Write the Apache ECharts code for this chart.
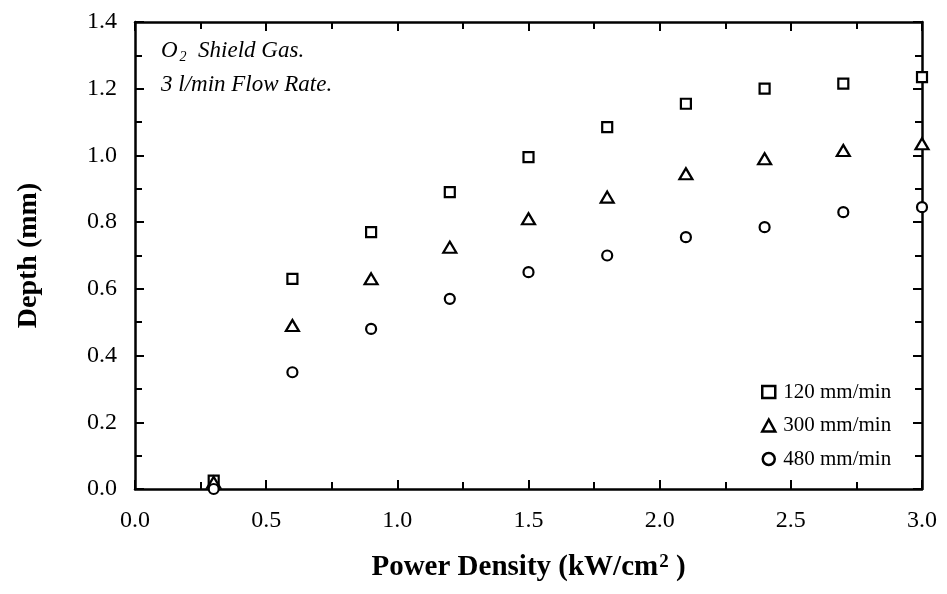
<!DOCTYPE html>
<html>
<head>
<meta charset="utf-8">
<script src="https://cdn.jsdelivr.net/npm/echarts@6/dist/echarts.min.js"></script>
<style>
  html, body { margin: 0; padding: 0; background: #fff; }
  #chart { width: 947px; height: 594px; }
</style>
</head>
<body>
<div id="chart"></div>
<script>
// power density (kW/cm2)
const powerDensity = [0.3, 0.6, 0.9, 1.2, 1.5, 1.8, 2.1, 2.4, 2.7, 3.0]
// weld depth (mm) for each travel speed
const depth120 = [0.025, 0.63, 0.77, 0.89, 0.995, 1.085, 1.155, 1.2, 1.215, 1.235]
const depth300 = [0.02, 0.49, 0.63, 0.725, 0.81, 0.875, 0.945, 0.99, 1.015, 1.035]
const depth480 = [0.0, 0.35, 0.48, 0.57, 0.65, 0.7, 0.755, 0.785, 0.83, 0.845]
const seriesNames = ['120 mm/min', '300 mm/min', '480 mm/min']

const serif = "'Liberation Serif', 'Times New Roman', serif"
const black = '#000'

const pairs = (ys) => powerDensity.map((x, i) => [x, ys[i]])

const myChart = echarts.init(document.getElementById('chart'))

const tickStyle = { show: true, inside: true, length: 9, lineStyle: { color: black, width: 2 } }
const minorStyle = { show: true, splitNumber: 2, length: 7, lineStyle: { color: black, width: 2 } }
const lineStyle = { show: true, onZero: false, lineStyle: { color: black, width: 2.5 } }

function marker(name, data, symbol, size) {
  return {
    name: name,
    type: 'scatter',
    data: data,
    symbol: symbol,
    symbolSize: size,
    clip: false,
    itemStyle: { color: '#fff', borderColor: black, borderWidth: 2.2, opacity: 1 },
    emphasis: { disabled: true }
  }
}

myChart.setOption({
  animation: false,
  backgroundColor: '#fff',
  title: {
    left: 156,
    top: 29,
    text: '{i|O}{s|2}{i|  Shield Gas.}\n{i|3 l/min Flow Rate.}',
    textStyle: {
      fontWeight: 'normal',
      rich: {
        i: { fontFamily: serif, fontStyle: 'italic', fontWeight: 'normal', fontSize: 23, lineHeight: 34, color: black },
        s: { fontFamily: serif, fontStyle: 'italic', fontWeight: 'normal', fontSize: 14, lineHeight: 14, verticalAlign: 'bottom', padding: [0, 0, 4, 2], color: black }
      }
    }
  },
  legend: {
    orient: 'vertical',
    left: 756,
    top: 376,
    itemWidth: 13,
    itemHeight: 12,
    itemGap: 11.5,
    selectedMode: false,
    data: seriesNames,
    itemStyle: { borderWidth: 2.5 },
    textStyle: { fontFamily: serif, fontSize: 21, color: black, lineHeight: 22, padding: [0, 0, 0, 3] }
  },
  grid: { left: 135, right: 25, top: 22, bottom: 105 },
  xAxis: [
    {
      type: 'value', min: 0, max: 3, interval: 0.5,
      position: 'bottom',
      name: '{b|Power Density (kW/cm}{p|2}{b| )}',
      nameLocation: 'middle',
      nameGap: 63,
      nameTextStyle: {
        rich: {
          b: { fontFamily: serif, fontWeight: 'bold', fontSize: 29, lineHeight: 31, color: black },
          p: { fontFamily: serif, fontWeight: 'bold', fontSize: 19, lineHeight: 19, verticalAlign: 'top', padding: [1, 0, 0, 1], color: black }
        }
      },
      axisLine: lineStyle,
      axisTick: tickStyle,
      minorTick: minorStyle,
      splitLine: { show: false },
      axisLabel: { fontFamily: serif, fontSize: 24, color: black, margin: 20, formatter: (v) => v.toFixed(1) }
    },
    {
      type: 'value', min: 0, max: 3, interval: 0.5,
      position: 'top',
      axisLine: lineStyle,
      axisTick: tickStyle,
      minorTick: minorStyle,
      splitLine: { show: false },
      axisLabel: { show: false }
    }
  ],
  yAxis: [
    {
      type: 'value', min: 0, max: 1.4, interval: 0.2,
      position: 'left',
      name: 'Depth (mm)',
      nameLocation: 'middle',
      nameGap: 92,
      nameTextStyle: { fontFamily: serif, fontWeight: 'bold', fontSize: 28, color: black },
      axisLine: lineStyle,
      axisTick: tickStyle,
      minorTick: minorStyle,
      splitLine: { show: false },
      axisLabel: { fontFamily: serif, fontSize: 24, color: black, margin: 18, formatter: (v) => v.toFixed(1) }
    },
    {
      type: 'value', min: 0, max: 1.4, interval: 0.2,
      position: 'right',
      axisLine: lineStyle,
      axisTick: tickStyle,
      minorTick: minorStyle,
      splitLine: { show: false },
      axisLabel: { show: false }
    }
  ],
  series: [
    marker(seriesNames[0], pairs(depth120), 'rect', 10),
    marker(seriesNames[1], pairs(depth300), 'triangle', [13, 11]),
    marker(seriesNames[2], pairs(depth480), 'circle', 10)
  ]
})
</script>
</body>
</html>
